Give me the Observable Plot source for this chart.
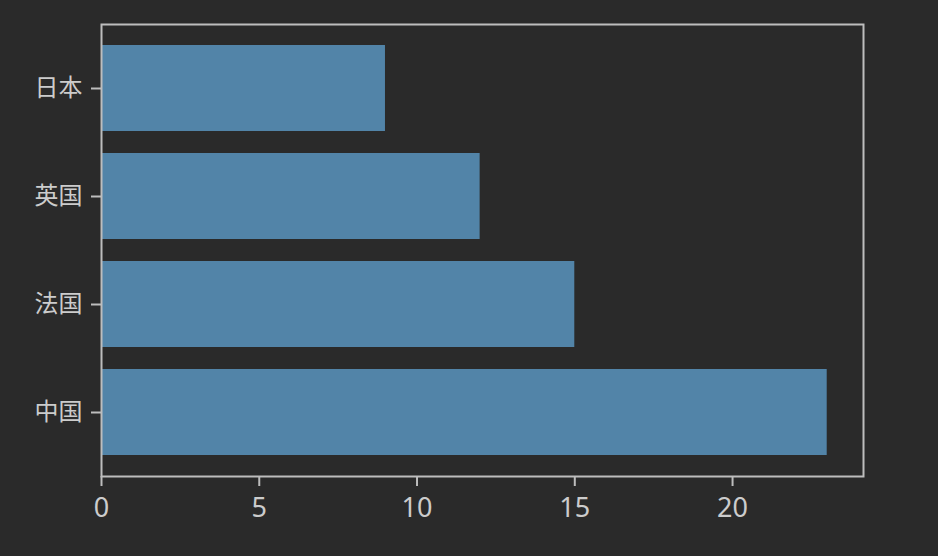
<!DOCTYPE html>
<html>
<head>
<meta charset="utf-8">
<script src="https://cdn.jsdelivr.net/npm/d3@7"></script>
<script src="https://cdn.jsdelivr.net/npm/@observablehq/plot@0.6"></script>
<style>
  html, body { margin: 0; padding: 0; background: #2a2a2a; }
  #chart { width: 938px; height: 556px; }
  #chart svg g.xax text { font-size: 27px; }
  #chart svg g.yax text { font-size: 24px; }
</style>
</head>
<body>
<div id="chart"></div>
<script>
const countries = ["日本", "英国", "法国", "中国"];
const values = [9, 12, 15, 23];
const xTicks = [0, 5, 10, 15, 20];

const data = countries.map((c, i) => ({country: c, value: values[i]}));
const axisColor = "#bdbdbd";
const textColor = "#cccccc";

const chart = Plot.plot({
  width: 938,
  height: 556,
  marginLeft: 101,
  marginRight: 75,
  marginTop: 24,
  marginBottom: 80,
  style: {
    background: "#2a2a2a",
    color: textColor,
    fontFamily: "'Noto Sans CJK SC', 'Noto Sans', sans-serif"
  },
  x: {domain: [0, 23 * 1.05], ticks: xTicks, label: null},
  y: {domain: countries, paddingInner: 0.2, paddingOuter: 0.19, label: null},
  marks: [
    Plot.barX(data, {x: "value", y: "country", fill: "#5284a8"}),
    Plot.frame({stroke: axisColor, strokeWidth: 2}),
    Plot.axisX({ticks: xTicks, tickSize: 10, tickPadding: 11, stroke: axisColor, strokeWidth: 2, fill: textColor, className: "xax", fontFamily: "'Noto Sans', sans-serif", label: null}),
    Plot.axisY({tickSize: 10, tickPadding: 9, stroke: axisColor, strokeWidth: 2, fill: textColor, className: "yax", label: null})
  ]
});
document.getElementById("chart").appendChild(chart);
</script>
</body>
</html>
